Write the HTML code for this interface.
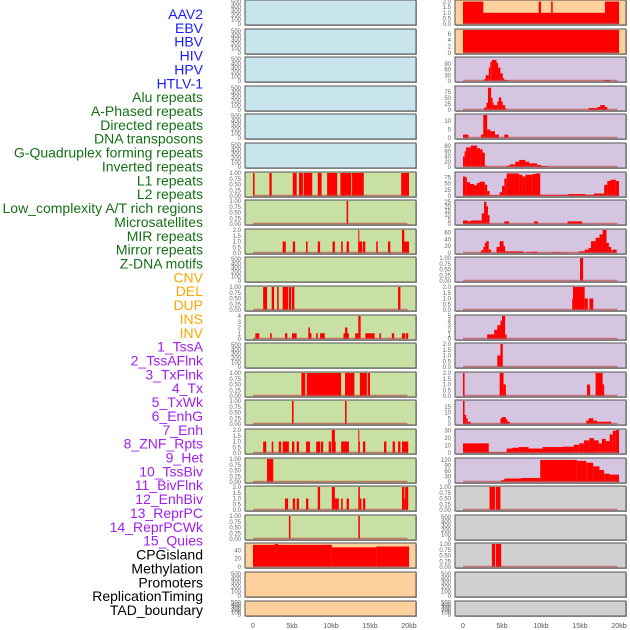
<!DOCTYPE html>
<html><head><meta charset="utf-8"><style>
body{margin:0;background:#fff;width:630px;height:630px;overflow:hidden;font-family:"Liberation Sans",sans-serif}
svg{position:absolute;left:0;top:0}
</style></head><body>
<svg id="c" width="630" height="630" xmlns="http://www.w3.org/2000/svg"></svg>
<script>
const labels=["AAV2","EBV","HBV","HIV","HPV","HTLV-1","Alu repeats","A-Phased repeats","Directed repeats","DNA transposons","G-Quadruplex forming repeats","Inverted repeats","L1 repeats","L2 repeats","Low_complexity A/T rich regions","Microsatellites","MIR repeats","Mirror repeats","Z-DNA motifs","CNV","DEL","DUP","INS","INV","1_TssA","2_TssAFlnk","3_TxFlnk","4_Tx","5_TxWk","6_EnhG","7_Enh","8_ZNF_Rpts","9_Het","10_TssBiv","11_BivFlnk","12_EnhBiv","13_ReprPC","14_ReprPCWk","15_Quies","CPGisland","Methylation","Promoters","ReplicationTiming","TAD_boundary"];
const labelColors=[...Array(6).fill("#1a1aff"),...Array(13).fill("#157015"),...Array(5).fill("#ffa500"),...Array(15).fill("#a020f0"),...Array(5).fill("#000")];
const xTicks=[0,5,10,15,20];
const xTickLabels=["0","5kb","10kb","15kb","20kb"];
const T500=[0,100,200,300,400,500], T1=[0,0.25,0.5,0.75,1], T2=[0,0.5,1,1.5,2];
const leftYmax=[520,520,520,520,520,520,1,1,2,520,1,4,520,1,1,2,1,2,1,55,520,520];
const leftBg=["#c8e4ec","#c8e4ec","#c8e4ec","#c8e4ec","#c8e4ec","#c8e4ec","#c8e0a4","#c8e0a4","#c8e0a4","#c8e0a4","#c8e0a4","#c8e0a4","#c8e0a4","#c8e0a4","#c8e0a4","#c8e0a4","#c8e0a4","#c8e0a4","#c8e0a4","#fdd09c","#fdd09c","#fdd09c"];
const leftTicks=[T500,T500,T500,T500,T500,T500,T1,T1,T2,T500,T1,[0,1,2,3,4],T500,T1,T1,T2,T1,T2,T1,[0,20,40],T500,T500];
const leftBars=[[],[],[],[],[],[],
[[0,0.2,1],[2.1,2.4,1],[5.1,5.6,1],[5.9,6.4,1],[6.5,7.6,1],[8.3,8.8,1],[9.5,10.8,1],[11.2,12.6,1],[12.7,14.2,1],[19,20,1]],
[[12,12.2,1]],
[[3.8,4.2,1],[5.1,5.4,1],[6.8,7.0,1],[8.3,8.6,1],[10.2,10.5,1],[11.3,11.5,1],[12.0,12.3,1],[13.5,14,1],[13.5,13.6,2],[14.1,14.4,1],[15.8,16,1],[17.3,17.6,1],[19.1,20,1],[19.1,19.4,2]],
[],
[[1.3,1.8,1],[2.4,2.7,1],[3.1,3.3,1],[3.8,4.5,1],[4.6,4.9,1],[5.0,5.3,1],[18.6,18.9,1]],
[[0.3,0.8,1],[2.2,2.4,1],[4.1,4.4,1],[5,5.6,1],[7.1,7.5,1],[7.1,7.3,2],[8.1,8.3,1],[8.6,9.2,1],[11.6,12.3,1],[11.8,12.1,2],[13.1,13.5,1],[13.5,13.8,4],[14.4,15.6,1],[16.2,16.4,1],[17.8,18.1,1],[19.1,19.5,1],[19.6,19.9,1]],
[],
[[6.2,6.7,1],[6.9,11.3,1],[11.8,13,1],[13.7,14.6,1],[14.7,15,1]],
[[5.0,5.2,1],[11.8,12.0,1]],
[[1.3,1.7,1],[2.4,2.6,1],[3.3,3.6,1],[3.8,4.6,1],[5.0,5.3,1],[5.6,5.9,1],[6.8,7.3,1],[8.1,8.6,1],[8.7,9.0,1],[9.7,10,1],[10.1,10.6,1],[10.1,10.5,2],[11.3,12.3,1],[13.5,13.7,1],[13.5,13.6,2],[14.1,14.4,1],[16.8,17.1,1],[17.9,18.2,1],[18.6,18.9,1],[19.1,19.9,1]],
[[1.8,2.6,1]],
[[4.1,4.5,1],[5.1,5.4,1],[5.6,5.9,1],[6.8,7.1,1],[8.3,8.6,2],[10.1,10.5,2],[10.5,11,1],[11.3,11.5,1],[12.0,12.3,1],[13.5,13.7,2],[13.7,13.9,1],[14.1,14.4,1],[19.1,19.4,2],[19.4,19.5,1],[19.5,19.9,2]],
[[4.6,4.8,1],[13.5,13.7,1]],
[[0,10.1,53],[2.8,3.2,55],[10.1,15.8,47],[15.8,20,49]],
[],[]];
const rightYmax=[2.05,7.2,120,95,13.5,88,92,26,68,1,2,5,2,2,20,31,125,1,520,1,520,520];
const rightBg=["#fdd09c","#fdd09c",...Array(15).fill("#d5c5e0"),"#d0d0d0","#d0d0d0","#d0d0d0","#d0d0d0","#d0d0d0"];
const rightTicks=[T2,[0,2,4,6],[0,30,60,90],[0,25,50,75],[0,5,10],[0,20,40,60,80],[0,25,50,75],[0,5,10,15,20,25],[0,20,40,60],T1,T2,[0,1,2,3,4,5],T2,T2,[0,5,10,15],[0,10,20,30],[0,30,60,90,120],T1,T500,T1,T500,T500];
const rightBars=[
[[0,20,1],[0,2.6,2],[9.7,10,2],[11.3,11.5,2],[18.2,20,2]],
[[0,20,7.2]],
[[2.7,2.9,10],[2.9,3.3,30],[3.3,3.5,70],[3.5,3.7,100],[3.7,4.3,110],[4.3,4.5,95],[4.5,4.8,70],[4.8,5.1,40],[5.1,5.3,15],[5.3,5.8,5],[18.1,18.9,5]],
[[2.7,3.0,10],[3.0,3.2,30],[3.2,3.6,92],[3.6,3.8,50],[3.8,3.9,30],[3.9,4.4,20],[4.4,4.6,35],[4.6,4.9,52],[4.9,5.1,35],[5.1,5.4,20],[5.4,5.5,8],[16.1,17.2,8],[17.2,17.6,12],[17.6,18.2,20],[18.2,18.5,12]],
[[0,0.7,2],[2.3,2.6,2],[2.6,3.1,13.5],[3.1,3.5,5],[3.5,4.1,4],[4.1,4.6,2],[5.3,5.8,2]],
[[0,0.2,40],[0.2,0.4,60],[0.4,1.0,75],[1.0,1.8,82],[1.8,2.2,72],[2.2,2.5,68],[2.5,2.8,55],[2.8,3.1,5],[5.6,6.0,5],[6.0,6.7,10],[6.7,7.2,20],[7.2,8.0,27],[8.0,8.5,20],[8.5,9.5,14],[9.5,10,8],[10,10.8,4]],
[[0,0.3,78],[0.3,0.5,75],[0.5,0.9,55],[0.9,1.4,48],[1.4,1.8,43],[1.8,2.1,52],[2.1,2.8,57],[2.8,3.1,45],[3.1,3.4,20],[3.4,4.7,3],[4.7,5.0,15],[5,5.3,40],[5.3,5.6,70],[5.6,7.2,90],[7.2,7.6,85],[7.6,8.0,78],[8.0,8.9,85],[8.9,9.3,88],[9.3,9.9,90],[9.9,13.5,5],[13.5,15.7,8],[15.7,16.8,5],[16.8,18.1,10],[18.1,18.5,45],[18.5,18.9,60],[18.9,19.6,65],[19.6,20,60]],
[[0,0.6,4],[0.6,1.0,3],[1.0,2.4,4],[2.4,2.7,12],[2.7,3.0,25],[3.0,3.2,20],[3.2,3.4,10],[5.3,5.9,3],[9.1,9.6,3],[13.4,15.3,3]],
[[2.3,2.6,8],[2.6,2.8,18],[2.8,3.0,30],[3.0,3.3,35],[3.3,3.6,10],[4.3,4.7,18],[4.7,5.2,35],[5.2,5.4,20],[5.4,7.7,5],[8.2,8.7,3],[8.8,9.5,4],[11.3,12.6,2],[13.0,13.4,2],[14.9,15.6,5],[15.6,16.1,10],[16.1,16.4,15],[16.4,17,35],[17,17.5,45],[17.5,17.9,55],[17.9,18.4,68],[18.4,18.7,30],[18.7,19,18],[19,19.2,8],[19.2,19.7,10]],
[[15,15.4,1]],
[[14,14.2,1],[14.1,15.6,2],[15.6,16,1],[16.2,16.7,1]],
[[3.1,4.0,1],[4.0,4.4,2],[4.4,4.8,3],[4.8,5.0,4],[5.0,5.4,5],[5.4,5.6,1]],
[[4.4,4.8,1],[4.8,5.1,2]],
[[0,0.2,2],[4.7,5.2,2],[5.2,5.5,1],[15.9,16.3,1],[17,17.9,2],[17.9,18.1,1]],
[[0,0.2,20],[0.2,0.4,8],[0.4,0.6,5],[0.6,1.0,2],[4.8,5.0,5],[5.0,5.5,6],[5.5,5.7,4],[5.7,6.0,2],[15.8,16.1,3],[16.1,16.7,5],[16.7,17.2,3],[17.2,19,2]],
[[0,3.3,13],[3.3,5.6,1],[5.6,6.3,6],[6.3,7.1,7],[7.1,8.4,8],[8.4,10.2,6],[10.2,12.8,8],[12.8,14.2,8.5],[14.2,14.9,11],[14.9,15.5,13],[15.5,16.2,17],[16.2,16.8,20],[16.8,17.4,17],[17.4,17.8,13],[17.8,18.3,19],[18.3,18.8,16],[18.8,19.2,25],[19.2,19.6,30],[19.6,20,31]],
[[4.9,5.3,10],[5.3,7.5,19],[7.5,9.9,22],[9.9,14.6,120],[14.6,15.8,115],[15.8,16.7,105],[16.7,17.5,85],[17.5,18.1,65],[18.1,18.8,45],[18.8,20,40]],
[[3.4,4.1,1],[4.2,4.8,1]],
[],
[[3.7,4.1,1],[4.2,4.9,1]],
[],[]];

const NS="http://www.w3.org/2000/svg";
const svg=document.getElementById("c");
function mk(tag,attrs,parent){const e=document.createElementNS(NS,tag);for(const k in attrs)e.setAttribute(k,attrs[k]);(parent||svg).appendChild(e);return e;}

labels.forEach((t,i)=>{
  const e=mk("text",{x:203,y:19+i*13.86,"text-anchor":"end","font-size":"14",fill:labelColors[i]});
  e.textContent=t;
  
  
});

function drawColumn(col,ymaxs,bgs,ticks,bars,left,x0){
  const kbpx=7.8;
  const xs=kb=>x0+kb*kbpx;
  for(let i=0;i<22;i++){
    const top=Math.round(i*28.6), h=(i==21?15:25), bot=top+h;
    const g=mk("g",{});
    
    
    mk("rect",{x:left+1,y:top+1,width:171,height:h,fill:"#aaa"},g);
    mk("rect",{x:left,y:top,width:171,height:h,fill:bgs[i],stroke:"#555","stroke-width":1},g);
    const ys=v=>bot-1-(v/ymaxs[i])*(h-2);
    bars[i].forEach((b,j)=>{
      const r=mk("rect",{x:xs(b[0]),y:ys(b[2]),width:Math.max(1,xs(b[1])-xs(b[0])),height:bot-1-ys(b[2]),fill:"#ff0000"},g);
      
      
    });
    if(bars[i].length) mk("line",{x1:xs(0),x2:xs(19.8),y1:bot-1.5,y2:bot-1.5,stroke:"#c05050","stroke-width":1.5,"stroke-opacity":0.7},g);
    const tk=ticks[i], mx=Math.max(...tk);
    const dec=mx<=1?2:(mx<=2?1:0);
    tk.forEach(v=>{
      const t=mk("text",{x:left-4,y:ys(v)+2,"text-anchor":"end","font-size":"6",fill:"#666"},g);
      t.textContent=v.toFixed(dec);
      
      
    });
  }
  xTicks.forEach((v,k)=>{
    const t=mk("text",{x:xs(v),y:628,"text-anchor":"middle","font-size":"7",fill:"#555"});
    t.textContent=xTickLabels[k];
    
    
  });
}
drawColumn("left",leftYmax,leftBg,leftTicks,leftBars,245,253);
drawColumn("right",rightYmax,rightBg,rightTicks,rightBars,455,463);
</script>
</body></html>
